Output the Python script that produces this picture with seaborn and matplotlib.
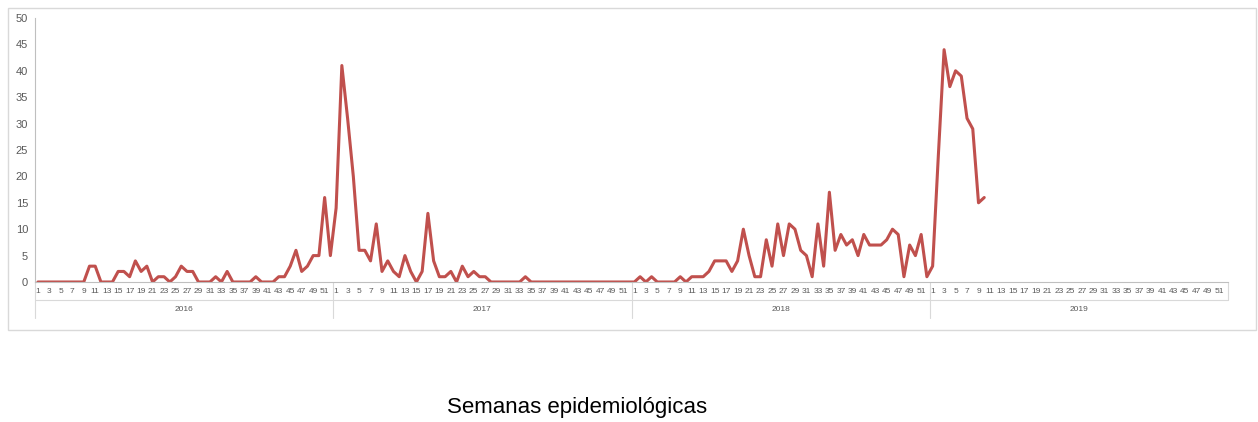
import numpy as np
import pandas as pd
import matplotlib
matplotlib.use('Agg')
import matplotlib.pyplot as plt
import seaborn as sns
from matplotlib.patches import Rectangle

years = ['2016', '2017', '2018', '2019']
weeks = list(range(1, 53))

cases_2016 = [0, 0, 0, 0, 0, 0, 0, 0, 0, 3, 3, 0, 0, 0, 2, 2, 1, 4, 2, 3,
              0, 1, 1, 0, 1, 3, 2, 2, 0, 0, 0, 1, 0, 2, 0, 0, 0, 0, 1, 0,
              0, 0, 1, 1, 3, 6, 2, 3, 5, 5, 16, 5]
cases_2017 = [14, 41, 31, 20, 6, 6, 4, 11, 2, 4, 2, 1, 5, 2, 0, 2, 13, 4, 1, 1,
              2, 0, 3, 1, 2, 1, 1, 0, 0, 0, 0, 0, 0, 1, 0, 0, 0, 0, 0, 0,
              0, 0, 0, 0, 0, 0, 0, 0, 0, 0, 0, 0]
cases_2018 = [0, 1, 0, 1, 0, 0, 0, 0, 1, 0, 1, 1, 1, 2, 4, 4, 4, 2, 4, 10,
              5, 1, 1, 8, 3, 11, 5, 11, 10, 6, 5, 1, 11, 3, 17, 6, 9, 7, 8, 5,
              9, 7, 7, 7, 8, 10, 9, 1, 7, 5, 9, 1]
cases_2019 = [3, 24, 44, 37, 40, 39, 31, 29, 15, 16]

values = cases_2016 + cases_2017 + cases_2018 + cases_2019
df = pd.DataFrame({'idx': np.arange(len(values)), 'casos': values})
n_total = 52 * len(years)

sns.set_style('white')
plt.rcParams['font.family'] = ['Liberation Sans', 'DejaVu Sans']

fig = plt.figure(figsize=(12.58, 4.22), dpi=100)
ax = fig.add_axes([35 / 1258, 1 - 282 / 422, (1228 - 35) / 1258, (282 - 18) / 422])
fig.patches.append(Rectangle((8 / 1258, 1 - 330 / 422), 1248 / 1258, 322 / 422,
                             transform=fig.transFigure, fill=False,
                             edgecolor='#d9d9d9', linewidth=1))

sns.lineplot(data=df, x='idx', y='casos', color='#c0504d', linewidth=2.2, ax=ax)

ax.set_xlim(-0.5, n_total - 0.5)
ax.set_ylim(0, 50)
ax.set_yticks(range(0, 51, 5))
ax.tick_params(axis='y', labelsize=8, colors='#595959', length=3, width=0.8, pad=2)
ax.tick_params(axis='y', color='#bfbfbf')
ax.set_xticks([i for i in range(n_total) if i % 2 == 0])
ax.set_xticklabels([str(weeks[i % 52]) for i in range(n_total) if i % 2 == 0])
ax.tick_params(axis='x', labelsize=6, colors='#595959', length=0, pad=4)
for s in ['top', 'right']:
    ax.spines[s].set_visible(False)
ax.spines['left'].set_color('#bfbfbf')
ax.spines['bottom'].set_color('#bfbfbf')
ax.set_xlabel('')
ax.set_ylabel('')

# year group separators and labels
for k, yr in enumerate(years):
    start = k * 52 - 0.5
    ax.plot([start, start], [0, -6.9], color='#d9d9d9', lw=0.8, clip_on=False)
    ax.text(start + 26, -5.2, yr, ha='center', va='center', fontsize=6, color='#595959')
ax.plot([n_total - 0.5, n_total - 0.5], [0, -3.4], color='#d9d9d9', lw=0.8, clip_on=False)
ax.plot([-0.5, n_total - 0.5], [-3.4, -3.4], color='#d9d9d9', lw=0.8, clip_on=False)

fig.text(577 / 1258, 1 - 408 / 422, 'Semanas epidemiológicas', ha='center',
         va='center', fontsize=16, color='black')

fig.savefig('out.png', dpi=100)
